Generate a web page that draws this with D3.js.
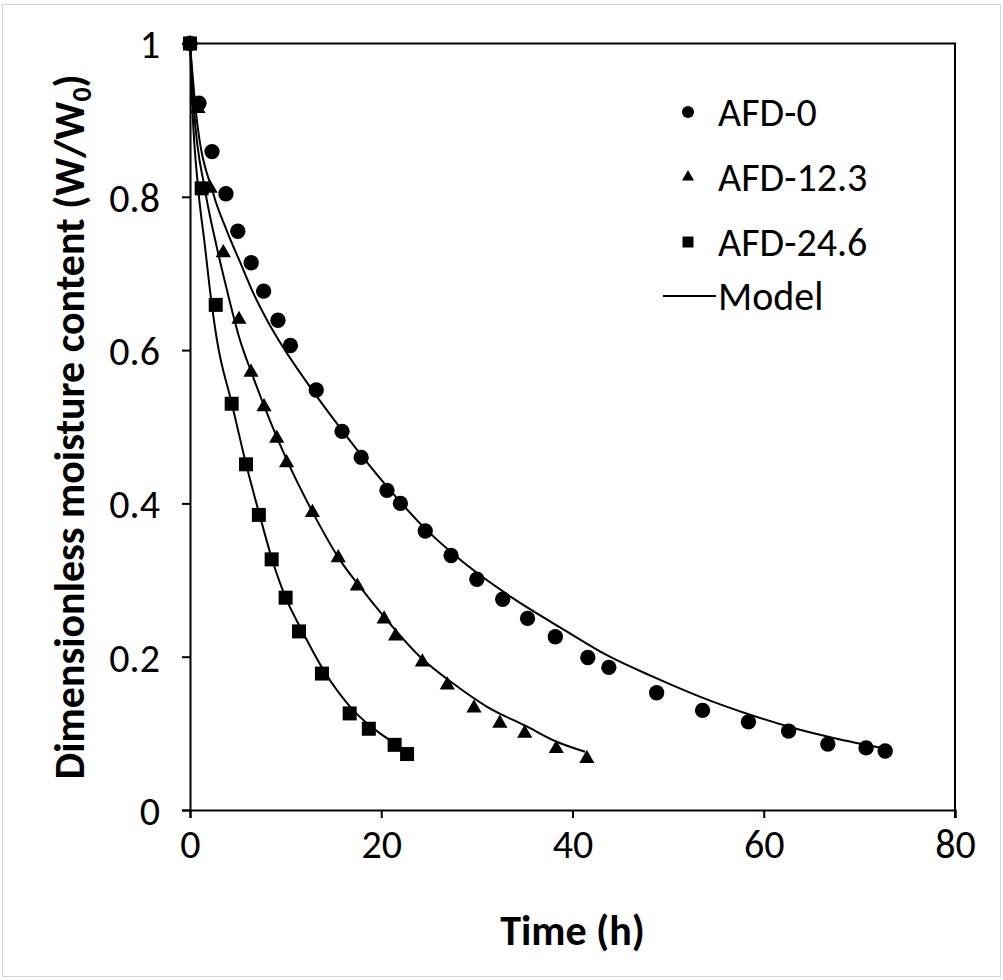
<!DOCTYPE html>
<html>
<head>
<meta charset="utf-8">
<script src="https://cdn.jsdelivr.net/npm/d3@7"></script>
<style>
  body { margin: 0; background: #fff; }
  svg { display: block; font-family: Carlito, Calibri, Lato, sans-serif; }
</style>
</head>
<body>
<svg id="chart"></svg>
<script>
// Measured series: drying time (h) and dimensionless moisture content W/W0
const afd0Time = [0, 0.94, 2.3, 3.76, 5.0, 6.4, 7.7, 9.2, 10.5, 13.2, 15.9, 17.9, 20.6, 22.0, 24.6, 27.3, 30.0, 32.7, 35.3, 38.2, 41.6, 43.8, 48.8, 53.6, 58.4, 62.6, 66.7, 70.7, 72.7];
const afd0MR = [1, 0.922, 0.859, 0.804, 0.755, 0.714, 0.677, 0.639, 0.606, 0.548, 0.494, 0.460, 0.417, 0.400, 0.364, 0.332, 0.301, 0.275, 0.250, 0.226, 0.199, 0.186, 0.153, 0.130, 0.115, 0.103, 0.086, 0.081, 0.077];

const afd12Time = [0, 0.84, 2.1, 3.48, 5.12, 6.38, 7.74, 9.07, 10.1, 12.8, 15.5, 17.5, 20.3, 21.5, 24.3, 26.9, 29.7, 32.4, 35.0, 38.3, 41.5];
const afd12MR = [1, 0.915, 0.811, 0.727, 0.640, 0.571, 0.526, 0.485, 0.453, 0.388, 0.329, 0.292, 0.249, 0.227, 0.193, 0.163, 0.133, 0.113, 0.100, 0.080, 0.067];

const afd24Time = [0, 1.22, 2.69, 4.36, 5.86, 7.2, 8.54, 10.0, 11.4, 13.8, 16.7, 18.7, 21.4, 22.7];
const afd24MR = [1, 0.811, 0.659, 0.530, 0.451, 0.385, 0.327, 0.277, 0.233, 0.178, 0.126, 0.106, 0.085, 0.073];

// Model curves
const model0Time = [0, 0.63, 2.44, 3.84, 5.23, 6.56, 8.02, 12.55, 15.86, 20.74, 24.05, 28.2, 33.8, 39.4, 43.6, 48.4, 53.3, 58.9, 63.1, 67.3, 72.7];
const model0MR = [1, 0.910, 0.804, 0.756, 0.715, 0.676, 0.640, 0.552, 0.496, 0.420, 0.374, 0.327, 0.276, 0.233, 0.202, 0.174, 0.148, 0.123, 0.107, 0.094, 0.080];

const model12Time = [0, 0.42, 1.57, 2.79, 3.87, 5.23, 6.45, 10.11, 12.89, 15.69, 17.78, 20.57, 24.05, 27.53, 31.03, 35.21, 38.35, 41.31];
const model12MR = [1, 0.913, 0.809, 0.735, 0.678, 0.613, 0.570, 0.457, 0.387, 0.326, 0.291, 0.248, 0.200, 0.165, 0.135, 0.109, 0.089, 0.076];

const model24Time = [0, 0.26, 0.87, 1.57, 2.09, 2.82, 4.36, 5.93, 7.32, 8.71, 10.11, 11.5, 13.94, 17.08, 19.87, 21.96];
const model24MR = [1, 0.913, 0.809, 0.735, 0.678, 0.613, 0.531, 0.448, 0.383, 0.322, 0.274, 0.239, 0.183, 0.130, 0.100, 0.083];

const seriesNames = ["AFD-0", "AFD-12.3", "AFD-24.6"];
const xTicks = [0, 20, 40, 60, 80];
const yTicks = [0, 0.2, 0.4, 0.6, 0.8, 1];

const width = 1003;
const height = 980;
const margin = {left: 190, top: 43.5, right: 48, bottom: 170};

const svg = d3.select("#chart")
    .attr("width", width)
    .attr("height", height);

// light frame around the whole picture
svg.append("rect")
    .attr("x", 2.5).attr("y", 4.5)
    .attr("width", width - 5).attr("height", height - 8)
    .attr("fill", "none")
    .attr("stroke", "#d4d4d4");

const x = d3.scaleLinear().domain([0, 80]).range([margin.left, width - margin.right]);
const y = d3.scaleLinear().domain([0, 1]).range([height - margin.bottom, margin.top]);

// x axis
const xAxis = svg.append("g")
    .attr("transform", `translate(0,${y(0)})`)
    .call(d3.axisBottom(x).tickValues(xTicks).tickFormat(d3.format("d")).tickSize(8).tickPadding(10));

// y axis
const yAxis = svg.append("g")
    .attr("transform", `translate(${x(0)},0)`)
    .call(d3.axisLeft(y).tickValues(yTicks).tickFormat(d => d === 0 || d === 1 ? d : d.toFixed(1)).tickSize(8).tickPadding(22));

[xAxis, yAxis].forEach(g => {
    g.select(".domain").attr("stroke", "#000").attr("stroke-width", 2);
    g.selectAll(".tick line").attr("stroke", "#000").attr("stroke-width", 2);
    g.selectAll(".tick text")
        .attr("fill", "#000")
        .style("font-size", "40px")
        .style("font-family", "Carlito, Calibri, Lato, sans-serif");
});
yAxis.selectAll(".tick text").attr("dy", "0.36em");
xAxis.selectAll(".tick text").attr("dy", "0.74em");

// top and right edge of the plot box
svg.append("path")
    .attr("d", `M${x(0)},${y(1)}H${x(80)}V${y(0) + 8}`)
    .attr("fill", "none")
    .attr("stroke", "#000")
    .attr("stroke-width", 2);

// axis titles
svg.append("text")
    .attr("x", (x(0) + x(80)) / 2)
    .attr("y", 945)
    .attr("text-anchor", "middle")
    .style("font-size", "42px")
    .style("font-weight", "bold")
    .text("Time (h)");

const yTitle = svg.append("text")
    .attr("transform", `translate(84,${(y(0) + y(1)) / 2}) rotate(-90)`)
    .attr("text-anchor", "middle")
    .style("font-size", "42px")
    .style("font-weight", "bold");
yTitle.append("tspan").text("Dimensionless moisture content (W/W");
yTitle.append("tspan").attr("dy", "0.25em").style("font-size", "28px").text("0");
yTitle.append("tspan").attr("dy", "-0.17em").text(")");

// model lines
const line = d3.line()
    .x(d => x(d[0]))
    .y(d => y(d[1]))
    .curve(d3.curveMonotoneX);

const models = [
    d3.zip(model0Time, model0MR),
    d3.zip(model12Time, model12MR),
    d3.zip(model24Time, model24MR)
];

svg.append("g")
    .selectAll("path")
    .data(models)
    .join("path")
    .attr("d", line)
    .attr("fill", "none")
    .attr("stroke", "#000")
    .attr("stroke-width", 2);

// measured points
const series = [
    {pts: d3.zip(afd0Time, afd0MR), type: d3.symbolCircle, size: 185, legendSize: 115},
    {pts: d3.zip(afd12Time, afd12MR), type: d3.symbolTriangle, size: 100, legendSize: 62},
    {pts: d3.zip(afd24Time, afd24MR), type: d3.symbolSquare, size: 196, legendSize: 121}
];

series.forEach(s => {
    svg.append("g")
        .selectAll("path")
        .data(s.pts)
        .join("path")
        .attr("transform", d => `translate(${x(d[0])},${y(d[1])})`)
        .attr("d", d3.symbol().type(s.type).size(s.size))
        .attr("fill", "#000");
});

// legend
const legend = svg.append("g");
const legendRows = [112, 177, 242];
series.forEach((s, i) => {
    legend.append("path")
        .attr("transform", `translate(688,${legendRows[i]})`)
        .attr("d", d3.symbol().type(s.type).size(s.legendSize))
        .attr("fill", "#000");
    legend.append("text")
        .attr("x", 718)
        .attr("y", legendRows[i])
        .attr("dy", "0.36em")
        .style("font-size", "40px")
        .text(seriesNames[i]);
});
legend.append("line")
    .attr("x1", 663).attr("x2", 716)
    .attr("y1", 296).attr("y2", 296)
    .attr("stroke", "#000")
    .attr("stroke-width", 2);
legend.append("text")
    .attr("x", 718)
    .attr("y", 296)
    .attr("dy", "0.36em")
    .style("font-size", "40px")
    .text("Model");
</script>
</body>
</html>
